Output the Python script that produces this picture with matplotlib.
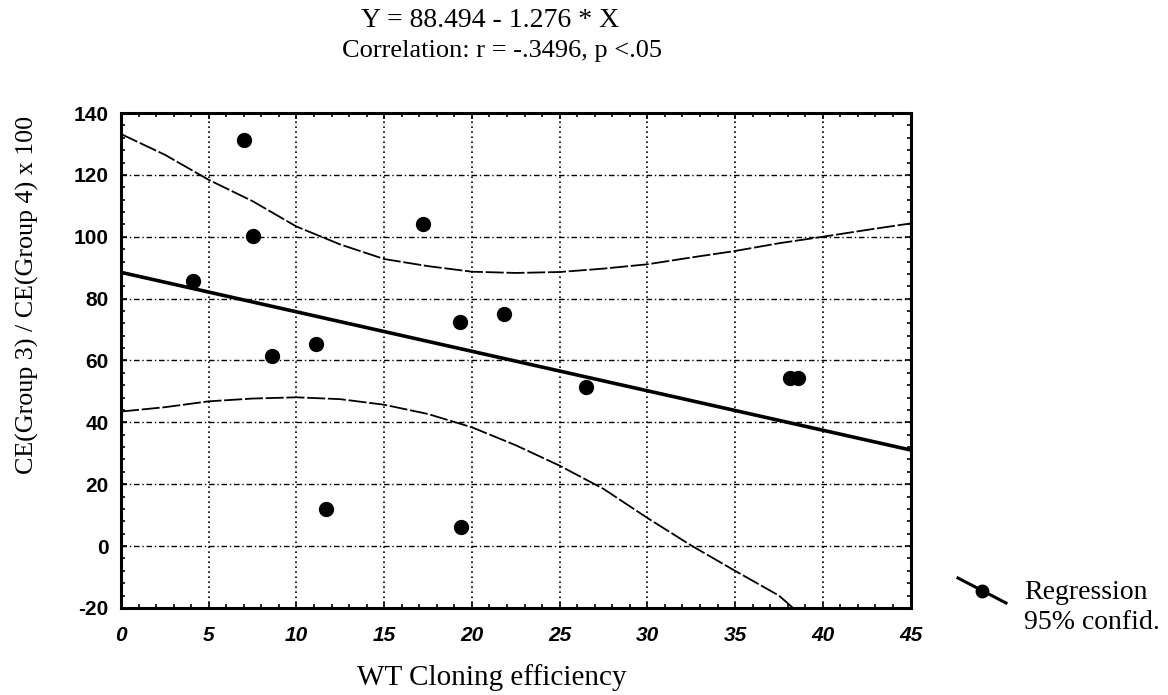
"""
Regression of CE ratio vs WT cloning efficiency, with 95% confidence band.
"""

import numpy as np
import matplotlib
matplotlib.use("Agg")
import matplotlib.pyplot as plt
from matplotlib.lines import Line2D
from matplotlib.ticker import MultipleLocator

# ------------------------------------------------------------
# Data
# ------------------------------------------------------------

wt_ce = [4.1, 7.0, 7.5, 8.6, 11.1, 11.7, 17.2, 19.3, 19.4, 21.8, 26.5, 38.1, 38.6]
ratio = [85.8, 131.3, 100.2, 61.5, 65.3, 12.1, 104.2, 72.6, 6.1, 75.0, 51.5, 54.2, 54.2]

intercept = 88.494
slope = -1.276

band_x = [0, 2.5, 5, 7.5, 10, 12.5, 15, 17.5, 20, 22.5,
          25, 27.5, 30, 32.5, 35, 37.5, 40, 42.5, 45]
band_upper = [133.2, 126.5, 118.4, 111.5, 103.3, 97.5, 92.8, 90.5, 88.7, 88.3,
              88.6, 89.7, 91.1, 93.3, 95.4, 97.9, 100.0, 102.2, 104.3]

low_x = [0, 2.5, 5, 7.5, 10, 12.5, 15, 17.5, 20, 22.5,
         25, 27.5, 30, 32.5, 35, 37.5, 38.3]
band_lower = [43.5, 44.9, 46.8, 47.7, 48.1, 47.5, 45.7, 42.7, 38.4, 32.6,
              26.0, 18.5, 9.1, 0.2, -8.0, -16.0, -20.0]

title_lines = ["Y = 88.494 - 1.276 * X", "Correlation: r = -.3496, p <.05"]

# ------------------------------------------------------------
# Figure
# ------------------------------------------------------------

plt.rcParams["axes.unicode_minus"] = False

serif = ["Liberation Serif", "DejaVu Serif"]
sans = ["Liberation Sans", "DejaVu Sans"]

fig = plt.figure(figsize=(11.68, 6.95), dpi=100)
ax = fig.add_axes([0.1036, 0.1252, 0.676, 0.7122])

xs = np.array([0, 45])
ax.plot(xs, intercept + slope * xs, color="black", lw=2.6, zorder=3)

ax.plot(band_x, band_upper, color="black", lw=1.3, ls=(0, (10, 1.5)), zorder=3)
ax.plot(low_x, band_lower, color="black", lw=1.3, ls=(0, (10, 1.5)), zorder=3)

ax.plot(wt_ce, ratio, "o", color="black", ms=10, zorder=4)

ax.set_xlim(0, 45)
ax.set_ylim(-20, 140)
ax.xaxis.set_major_locator(MultipleLocator(5))
ax.xaxis.set_minor_locator(MultipleLocator(1))
ax.yaxis.set_major_locator(MultipleLocator(20))
ax.yaxis.set_minor_locator(MultipleLocator(4))

ax.grid(True, axis="y", which="major", color="black", lw=1.0, ls=(0, (4, 2, 1, 2)))
ax.grid(True, axis="x", which="major", color="black", lw=1.2, ls=(0, (1, 2)))
ax.set_axisbelow(True)

ax.tick_params(which="both", direction="in", top=True, right=True,
               color="black")
ax.tick_params(which="major", length=4, width=1.2)
ax.tick_params(which="minor", length=3, width=1.2)
ax.tick_params(axis="y", pad=9)
ax.tick_params(axis="x", pad=13)

for side in ax.spines.values():
    side.set_linewidth(2.2)

for lab in ax.get_yticklabels():
    lab.set_fontfamily(sans)
    lab.set_fontweight("bold")
    lab.set_fontsize(15)
for lab in ax.get_xticklabels():
    lab.set_fontfamily(sans)
    lab.set_fontweight("bold")
    lab.set_fontstyle("italic")
    lab.set_fontsize(15)

fig.text(492 / 1168, 1 - 685 / 695, "WT Cloning efficiency", family=serif,
         fontsize=21, ha="center", va="baseline")
fig.text(27 / 1168, 1 - 295 / 695, "CE(Group 3) / CE(Group 4) x 100",
         family=serif, fontsize=18.7, rotation=90, ha="center", va="center")

fig.text(0.420, 0.970, title_lines[0], family=serif, fontsize=20,
         ha="center", va="center")
fig.text(0.430, 0.927, title_lines[1], family=serif, fontsize=19,
         ha="center", va="center")

# ------------------------------------------------------------
# Legend (diagonal glyph as in the original)
# ------------------------------------------------------------

fig.add_artist(Line2D([0.8202, 0.8613], [0.1683, 0.1324], color="black", lw=2.2,
                      transform=fig.transFigure))
fig.add_artist(Line2D([0.8405], [0.1500], marker="o", ms=9, color="black",
                      transform=fig.transFigure))
fig.text(0.877, 0.1468, "Regression", family=serif, fontsize=20,
         ha="left", va="center")
fig.text(0.877, 0.1050, "95% confid.", family=serif, fontsize=20,
         ha="left", va="center")

fig.savefig("out.png", dpi=100)
